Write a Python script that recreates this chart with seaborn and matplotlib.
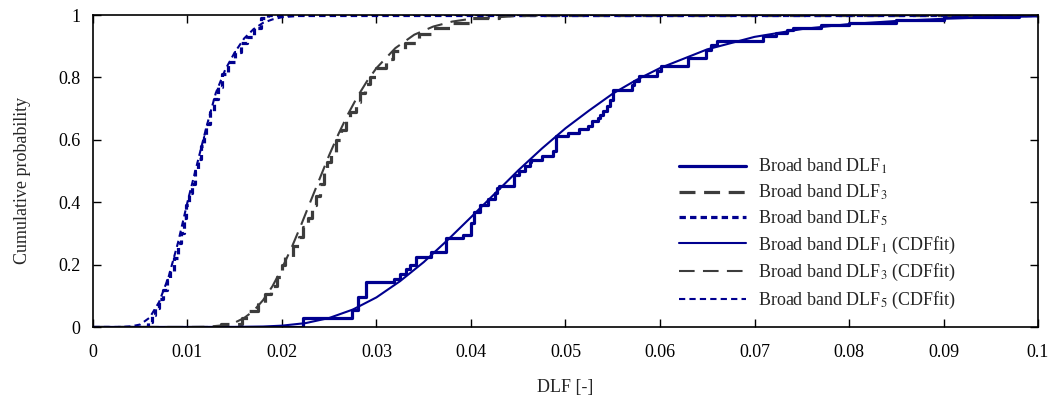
import numpy as np
import pandas as pd
import matplotlib
matplotlib.use("Agg")
import matplotlib.pyplot as plt
from matplotlib.ticker import FuncFormatter, MultipleLocator
import seaborn as sns

dlf1_x = [0.0, 0.0222, 0.0274, 0.0280, 0.0289, 0.0319, 0.0325, 0.0331, 0.0336, 0.0342,
          0.0358, 0.0374, 0.0392, 0.0400, 0.0403, 0.0410, 0.0418, 0.0425, 0.0428, 0.0430,
          0.0446, 0.0451, 0.0457, 0.0462, 0.0464, 0.0475, 0.0487, 0.0490, 0.0503, 0.0514,
          0.0524, 0.0528, 0.0534, 0.0537, 0.0540, 0.0544, 0.0547, 0.0550, 0.0570, 0.0573,
          0.0578, 0.0597, 0.0601, 0.0630, 0.0649, 0.0654, 0.0660, 0.0709, 0.0723, 0.0734,
          0.0741, 0.0770, 0.0800, 0.0850, 0.0900, 0.0980, 0.1000]
dlf1_y = [0.0, 0.028, 0.055, 0.097, 0.143, 0.155, 0.170, 0.185, 0.200, 0.226,
          0.242, 0.285, 0.295, 0.333, 0.370, 0.390, 0.410, 0.430, 0.446, 0.453,
          0.488, 0.499, 0.515, 0.530, 0.536, 0.547, 0.563, 0.611, 0.622, 0.635,
          0.645, 0.659, 0.670, 0.680, 0.694, 0.707, 0.729, 0.761, 0.777, 0.787,
          0.803, 0.820, 0.836, 0.863, 0.889, 0.905, 0.916, 0.932, 0.943, 0.953,
          0.960, 0.968, 0.975, 0.985, 0.993, 1.000, 1.000]

dlf3_x = [0.0, 0.0135, 0.0158, 0.0165, 0.0175, 0.0182, 0.0188, 0.0195, 0.0200, 0.0203,
          0.0212, 0.0218, 0.0222, 0.0228, 0.0232, 0.0236, 0.0240, 0.0245, 0.0248, 0.0252,
          0.0257, 0.0262, 0.0268, 0.0272, 0.0278, 0.0283, 0.0288, 0.0293, 0.0300, 0.0310,
          0.0318, 0.0330, 0.0345, 0.0360, 0.0380, 0.0400, 0.0430, 0.1000]
dlf3_y = [0.0, 0.010, 0.028, 0.050, 0.075, 0.105, 0.130, 0.160, 0.200, 0.225,
          0.260, 0.290, 0.320, 0.350, 0.390, 0.420, 0.460, 0.500, 0.530, 0.560,
          0.600, 0.630, 0.660, 0.690, 0.720, 0.750, 0.780, 0.800, 0.830, 0.860,
          0.885, 0.910, 0.940, 0.960, 0.975, 0.990, 1.000, 1.000]

dlf5_x = [0.0, 0.0058, 0.0062, 0.0066, 0.0070, 0.0074, 0.0078, 0.0082, 0.0086, 0.0090,
          0.0093, 0.0096, 0.0099, 0.0102, 0.0105, 0.0108, 0.0111, 0.0114, 0.0117, 0.0120,
          0.0124, 0.0128, 0.0132, 0.0137, 0.0143, 0.0150, 0.0157, 0.0163, 0.0170, 0.0178,
          0.0185, 0.1000]
dlf5_y = [0.0, 0.016, 0.040, 0.060, 0.090, 0.120, 0.150, 0.180, 0.220, 0.270,
          0.300, 0.350, 0.390, 0.430, 0.460, 0.500, 0.540, 0.580, 0.610, 0.650,
          0.690, 0.730, 0.770, 0.810, 0.850, 0.880, 0.910, 0.930, 0.960, 0.990,
          1.000, 1.000]

# ---- fitted CDF curves ----
fit1_x = [0.0, 0.010, 0.015, 0.018, 0.020, 0.0225, 0.025, 0.0275, 0.030, 0.0325,
          0.035, 0.0375, 0.040, 0.0425, 0.045, 0.0475, 0.050, 0.0525, 0.055, 0.0575,
          0.060, 0.065, 0.070, 0.075, 0.080, 0.085, 0.090, 0.095, 0.100]
fit1_y = [0.0, 0.0, 0.0002, 0.0015, 0.0044, 0.0125, 0.029, 0.056, 0.095, 0.147,
          0.208, 0.278, 0.352, 0.427, 0.502, 0.572, 0.637, 0.694, 0.748, 0.792,
          0.830, 0.890, 0.930, 0.955, 0.971, 0.981, 0.988, 0.993, 0.996]

fit3_x = [0.0, 0.010, 0.012, 0.014, 0.015, 0.016, 0.017, 0.018, 0.019, 0.020,
          0.021, 0.022, 0.023, 0.024, 0.025, 0.026, 0.027, 0.028, 0.029, 0.030,
          0.032, 0.034, 0.036, 0.038, 0.040, 0.045, 0.050, 0.060, 0.100]
fit3_y = [0.0, 0.0, 0.0007, 0.006, 0.014, 0.029, 0.052, 0.086, 0.131, 0.188,
          0.253, 0.325, 0.401, 0.476, 0.551, 0.620, 0.683, 0.739, 0.788, 0.830,
          0.894, 0.937, 0.963, 0.979, 0.988, 0.997, 0.9995, 1.0, 1.0]

fit5_x = [0.0, 0.003, 0.004, 0.005, 0.006, 0.007, 0.008, 0.009, 0.010, 0.011,
          0.012, 0.013, 0.014, 0.015, 0.016, 0.017, 0.018, 0.019, 0.020, 0.022,
          0.025, 0.100]
fit5_y = [0.0, 0.0, 0.002, 0.008, 0.030, 0.080, 0.160, 0.270, 0.400, 0.520,
          0.640, 0.750, 0.825, 0.880, 0.925, 0.955, 0.975, 0.986, 0.993, 0.998,
          1.0, 1.0]

labels = [r"Broad band DLF$_1$", r"Broad band DLF$_3$", r"Broad band DLF$_5$",
          r"Broad band DLF$_1$ (CDFfit)", r"Broad band DLF$_3$ (CDFfit)",
          r"Broad band DLF$_5$ (CDFfit)"]

NAVY = "#00008f"
GREY = "#3c3c3c"
FS = 13

sns.set_theme(style="ticks")
plt.rcParams["font.family"] = ["Liberation Serif", "DejaVu Serif"]
plt.rcParams["mathtext.fontset"] = "stix"
plt.rcParams["font.size"] = FS

fig = plt.figure(figsize=(10.56, 4.01), dpi=100)
ax = fig.add_axes([0.088, 0.1845, 0.895, 0.778])

lw_e, lw_f = 2.3, 1.5
sns.lineplot(x=dlf1_x, y=dlf1_y, ax=ax, color=NAVY, lw=lw_e, drawstyle="steps-post",
             estimator=None, sort=False, label=labels[0])
sns.lineplot(x=dlf3_x, y=dlf3_y, ax=ax, color=GREY, lw=lw_e, drawstyle="steps-post",
             estimator=None, sort=False, label=labels[1], linestyle=(0, (5, 2.7)))
sns.lineplot(x=dlf5_x, y=dlf5_y, ax=ax, color=NAVY, lw=lw_e, drawstyle="steps-post",
             estimator=None, sort=False, label=labels[2], linestyle=(0, (2.0, 1.3)))
sns.lineplot(x=fit1_x, y=fit1_y, ax=ax, color=NAVY, lw=lw_f,
             estimator=None, sort=False, label=labels[3])
sns.lineplot(x=fit3_x, y=fit3_y, ax=ax, color=GREY, lw=lw_f,
             estimator=None, sort=False, label=labels[4], linestyle=(0, (7.5, 4)))
sns.lineplot(x=fit5_x, y=fit5_y, ax=ax, color=NAVY, lw=lw_f,
             estimator=None, sort=False, label=labels[5], linestyle=(0, (3, 2)))

ax.set_xlim(0, 0.1)
ax.set_ylim(0, 1)
ax.xaxis.set_major_locator(MultipleLocator(0.01))
ax.yaxis.set_major_locator(MultipleLocator(0.2))
fmt = FuncFormatter(lambda v, p: "%g" % round(v, 4))
ax.xaxis.set_major_formatter(fmt)
ax.yaxis.set_major_formatter(fmt)
ax.tick_params(direction="in", length=6, width=1, top=True, right=True,
               labelsize=FS, colors="black")
ax.tick_params(axis="x", pad=12)
ax.tick_params(axis="y", pad=9)
for s in ax.spines.values():
    s.set_visible(True)
    s.set_color("black")
    s.set_linewidth(1.2)

ax.set_xlabel("DLF [-]", fontsize=FS, labelpad=13)
ax.set_ylabel("Cumulative probability", fontsize=FS)
ax.yaxis.set_label_coords(-0.065, 0.47)

handles, labs = ax.get_legend_handles_labels()
ax.legend(handles, labs, loc="upper left", bbox_to_anchor=(0.62, 0.545),
          frameon=False, fontsize=FS, handlelength=3.7, labelspacing=0.36,
          handletextpad=0.7, borderpad=0, borderaxespad=0)

fig.savefig("out.png", dpi=100)
